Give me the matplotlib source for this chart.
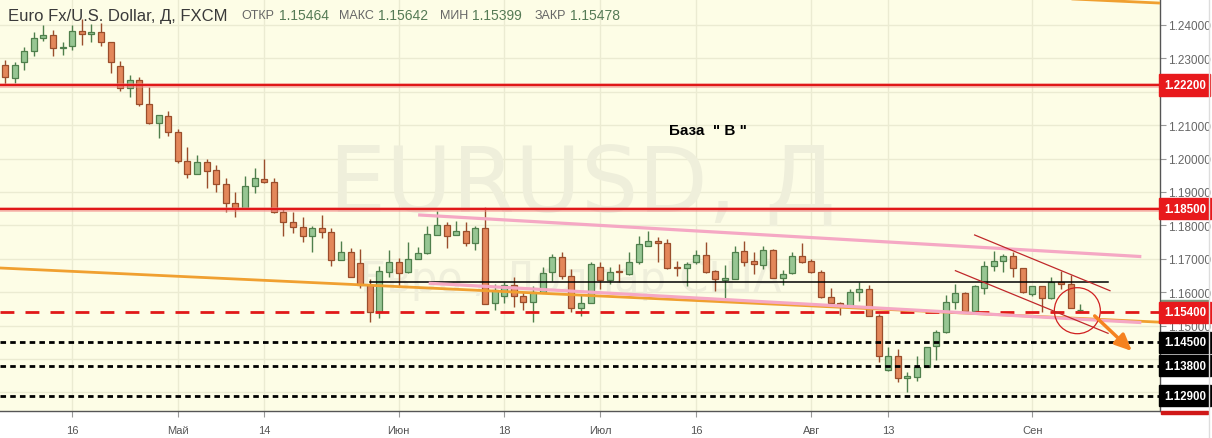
import numpy as np
import pandas as pd
import matplotlib
matplotlib.use("Agg")
import matplotlib.pyplot as plt
from matplotlib.patches import Ellipse, Rectangle
from matplotlib.lines import Line2D

# daily EURUSD candles, 5 Apr .. 10 Sep 2018
dates = pd.bdate_range("2018-04-05", "2018-09-10")
opens = [1.2281, 1.2240, 1.2288, 1.2323, 1.2360, 1.2370, 1.2330, 1.2336, 1.2383, 1.2372,
         1.2378, 1.2348, 1.2276, 1.2210, 1.2234, 1.2163, 1.2106, 1.2127, 1.2079, 1.1994,
         1.1953, 1.1989, 1.1965, 1.1923, 1.1866, 1.1851, 1.1917, 1.1938, 1.1929, 1.1839,
         1.1811, 1.1794, 1.1767, 1.1791, 1.1779, 1.1696, 1.1719, 1.1686, 1.1622, 1.1540,
         1.1661, 1.1689, 1.1660, 1.1700, 1.1716, 1.1772, 1.1801, 1.1772, 1.1784, 1.1746,
         1.1791, 1.1568, 1.1588, 1.1622, 1.1588, 1.1570, 1.1601, 1.1661, 1.1704, 1.1648,
         1.1552, 1.1567, 1.1674, 1.1637, 1.1664, 1.1655, 1.1690, 1.1739, 1.1752, 1.1747,
         1.1675, 1.1671, 1.1690, 1.1711, 1.1662, 1.1637, 1.1640, 1.1724, 1.1692, 1.1682,
         1.1727, 1.1642, 1.1657, 1.1708, 1.1692, 1.1660, 1.1585, 1.1567, 1.1560, 1.1600,
         1.1610, 1.1528, 1.1368, 1.1408, 1.1342, 1.1345, 1.1377, 1.1438, 1.1480, 1.1570,
         1.1598, 1.1543, 1.1614, 1.1677, 1.1694, 1.1707, 1.1671, 1.1595, 1.1618, 1.1582,
         1.1630, 1.1625, 1.15464]
highs = [1.2296, 1.2290, 1.2333, 1.2380, 1.2400, 1.2385, 1.2350, 1.2400, 1.2418, 1.2403,
         1.2406, 1.2349, 1.2291, 1.2250, 1.2243, 1.2213, 1.2130, 1.2143, 1.2089, 1.2036,
         1.2011, 1.1999, 1.1982, 1.1941, 1.1901, 1.1947, 1.1971, 1.1999, 1.1941, 1.1849,
         1.1839, 1.1824, 1.1799, 1.1831, 1.1791, 1.1754, 1.1731, 1.1729, 1.1639, 1.1678,
         1.1727, 1.1701, 1.1749, 1.1734, 1.1799, 1.1842, 1.1811, 1.1814, 1.1811, 1.1799,
         1.1854, 1.1625, 1.1630, 1.1645, 1.1600, 1.1618, 1.1675, 1.1714, 1.1721, 1.1670,
         1.1595, 1.1691, 1.1689, 1.1674, 1.1684, 1.1721, 1.1769, 1.1784, 1.1764, 1.1759,
         1.1694, 1.1689, 1.1727, 1.1749, 1.1667, 1.1681, 1.1739, 1.1754, 1.1719, 1.1739,
         1.1729, 1.1667, 1.1719, 1.1747, 1.1700, 1.1667, 1.1612, 1.1570, 1.1610, 1.1630,
         1.1622, 1.1535, 1.1435, 1.1430, 1.1360, 1.1408, 1.1435, 1.1488, 1.1592, 1.1625,
         1.1600, 1.1622, 1.1694, 1.1724, 1.1714, 1.1719, 1.1671, 1.1618, 1.1620, 1.1645,
         1.1664, 1.1650, 1.15642]
lows = [1.2223, 1.2225, 1.2266, 1.2308, 1.2353, 1.2306, 1.2311, 1.2326, 1.2340, 1.2348,
        1.2336, 1.2255, 1.2203, 1.2185, 1.2157, 1.2103, 1.2061, 1.2069, 1.1986, 1.1941,
        1.1953, 1.1913, 1.1901, 1.1841, 1.1824, 1.1849, 1.1896, 1.1927, 1.1836, 1.1769,
        1.1777, 1.1751, 1.1719, 1.1761, 1.1679, 1.1696, 1.1646, 1.1612, 1.1511, 1.1522,
        1.1645, 1.1620, 1.1657, 1.1700, 1.1714, 1.1772, 1.1731, 1.1772, 1.1739, 1.1727,
        1.1565, 1.1548, 1.1568, 1.1555, 1.1548, 1.1510, 1.1601, 1.1634, 1.1640, 1.1540,
        1.1530, 1.1567, 1.1610, 1.1624, 1.1630, 1.1651, 1.1684, 1.1739, 1.1691, 1.1669,
        1.1648, 1.1618, 1.1684, 1.1657, 1.1605, 1.1582, 1.1640, 1.1679, 1.1654, 1.1669,
        1.1642, 1.1622, 1.1655, 1.1687, 1.1657, 1.1582, 1.1558, 1.1532, 1.1552, 1.1575,
        1.1528, 1.1390, 1.1365, 1.1332, 1.1302, 1.1335, 1.1375, 1.1398, 1.1478, 1.1550,
        1.1542, 1.1543, 1.1595, 1.1664, 1.1659, 1.1644, 1.1598, 1.1590, 1.1540, 1.1580,
        1.1610, 1.1552, 1.15399]
closes = [1.2243, 1.2280, 1.2323, 1.2360, 1.2370, 1.2330, 1.2333, 1.2383, 1.2372, 1.2378,
          1.2348, 1.2288, 1.2210, 1.2234, 1.2163, 1.2106, 1.2130, 1.2079, 1.1994, 1.1953,
          1.1989, 1.1962, 1.1923, 1.1866, 1.1851, 1.1917, 1.1941, 1.1929, 1.1841, 1.1809,
          1.1794, 1.1769, 1.1791, 1.1779, 1.1696, 1.1719, 1.1646, 1.1622, 1.1540, 1.1663,
          1.1689, 1.1657, 1.1700, 1.1717, 1.1774, 1.1801, 1.1767, 1.1784, 1.1746, 1.1791,
          1.1565, 1.1607, 1.1622, 1.1588, 1.1570, 1.1602, 1.1657, 1.1704, 1.1648, 1.1552,
          1.1568, 1.1684, 1.1637, 1.1659, 1.1660, 1.1690, 1.1744, 1.1752, 1.1746, 1.1672,
          1.1671, 1.1684, 1.1711, 1.1660, 1.1640, 1.1643, 1.1720, 1.1691, 1.1684, 1.1727,
          1.1642, 1.1654, 1.1708, 1.1690, 1.1660, 1.1585, 1.1567, 1.1558, 1.1600, 1.1610,
          1.1528, 1.1410, 1.1408, 1.1342, 1.1348, 1.1377, 1.1435, 1.1480, 1.1570, 1.1598,
          1.1543, 1.1620, 1.1677, 1.1694, 1.1707, 1.1671, 1.1600, 1.1618, 1.1582, 1.1630,
          1.1625, 1.1552, 1.15478]

# horizontal levels
red_levels = [1.2220, 1.1850]
dash_level = 1.1540
dot_levels = [1.1450, 1.1380, 1.1290]
base_level = 1.1630

# trend lines: (x0, y0, x1, y1) in candle index / price
orange_low = (-1, 1.16731, 121, 1.15093)
orange_top = (95, 1.24996, 121, 1.24647)
pink_top = (43.2, 1.18311, 118.2, 1.17069)
pink_low = (44.3, 1.16266, 118.2, 1.15093)
chan_top = (101.0, 1.17713, 115.1, 1.16045)
chan_low = (99.0, 1.16644, 114.9, 1.14769)

tick_dates = ["2018-04-16", "2018-05-01", "2018-05-14", "2018-06-01", "2018-06-18",
              "2018-07-02", "2018-07-16", "2018-08-01", "2018-08-13", "2018-09-03"]
tick_labels = ["16", "Май", "14", "Июн", "18", "Июл", "16", "Авг", "13", "Сен"]
price_ticks = [1.15, 1.16, 1.17, 1.18, 1.19, 1.20, 1.21, 1.23, 1.24]

BG = "#fdfde6"
GRID = "#ebebd2"
UP_FILL, UP_EDGE = "#97c693", "#4f7f4c"
DN_FILL, DN_EDGE = "#e3875a", "#9a4e2c"

plt.rcParams["font.family"] = ["Liberation Sans", "DejaVu Sans"]

fig = plt.figure(figsize=(12.12, 4.39), dpi=100)
fig.patch.set_facecolor("white")
W, H = 1212.0, 439.0
ax = fig.add_axes([0, 27 / H, 1160 / W, 412 / H])
ax.set_facecolor(BG)

x = np.arange(len(dates))
o = np.array(opens); h = np.array(highs); l = np.array(lows); c = np.array(closes)
up = c >= o

ax.set_xlim(-0.52, 120.31)
ax.set_ylim(1.12443, 1.24778)

# grid
pos = [dates.get_loc(pd.Timestamp(d)) for d in tick_dates]
for p in pos:
    ax.axvline(p, color=GRID, lw=1, zorder=0)
for yv in np.arange(1.13, 1.2451, 0.01):
    ax.axhline(yv, color=GRID, lw=1, zorder=0)

# watermark
ax.text(60.1, 1.1843, "EURUSD, Д", fontsize=65, color="#efefdb", ha="center",
        va="baseline", zorder=1, family="DejaVu Sans")
ax.text(58.9, 1.1640, "Евро / Доллар США", fontsize=30, color="#efefdb", ha="center",
        va="center", zorder=1, family="DejaVu Sans")

# candles
ax.vlines(x[up], l[up], h[up], color=UP_EDGE, lw=1, zorder=2)
ax.vlines(x[~up], l[~up], h[~up], color=DN_EDGE, lw=1, zorder=2)
body = np.maximum(np.abs(c - o), 0.00008)
ax.bar(x[up], body[up], bottom=np.minimum(o, c)[up], width=0.64, color=UP_FILL,
       edgecolor=UP_EDGE, lw=0.9, zorder=3)
ax.bar(x[~up], body[~up], bottom=np.minimum(o, c)[~up], width=0.64, color=DN_FILL,
       edgecolor=DN_EDGE, lw=0.9, zorder=3)

# levels
for lv in red_levels:
    ax.axhline(lv, color="#f28c8c", lw=3.5, alpha=0.55, zorder=4)
    ax.axhline(lv, color="#e01818", lw=1.6, zorder=4)
ax.axhline(dash_level, color="#e01818", lw=2, dashes=(5, 4), zorder=4)
for lv in dot_levels:
    ax.axhline(lv, color="black", lw=2, dashes=(2, 1.5), zorder=4)
ax.plot([38, 114.9], [base_level, base_level], color="black", lw=1.1, zorder=4)


def seg(s, **kw):
    ax.plot([s[0], s[2]], [s[1], s[3]], **kw)


seg(orange_low, color="#f0a030", lw=2, zorder=4)
seg(orange_top, color="#f0a030", lw=2, zorder=4)
seg(pink_top, color="#f5a8c4", lw=2.3, zorder=4)
seg(pink_low, color="#f5a8c4", lw=2.3, zorder=4)
seg(chan_top, color="#c0282a", lw=0.9, zorder=4)
seg(chan_low, color="#c0282a", lw=0.9, zorder=4)

ax.add_patch(Ellipse((111.7, 1.15446), 46 / 9.6, 46 / 3340.0, fill=False,
                     edgecolor="#d02020", lw=0.9, zorder=5))
ax.annotate("", xy=(117.6, 1.1418), xytext=(113.3, 1.15347),
            arrowprops=dict(arrowstyle="-|>,head_length=1.0,head_width=0.45",
                            color="#f58220", lw=2.5), zorder=5)

ax.text(73.2, 1.2086, 'База  " В "', fontsize=11, fontweight="bold", ha="center",
        va="center", color="black", zorder=5)

# axes styling
for s in ["top", "left"]:
    ax.spines[s].set_visible(False)
for s in ["right", "bottom"]:
    ax.spines[s].set_color("#555555")
    ax.spines[s].set_linewidth(1)

ax.set_xticks(pos)
ax.set_xticklabels(tick_labels)
ax.tick_params(axis="x", length=4, color="#999999", labelsize=8, labelcolor="#555555", pad=6)
ax.yaxis.tick_right()
ax.set_yticks(price_ticks)
ax.set_yticklabels(["%.5f" % v for v in price_ticks])
ax.tick_params(axis="y", length=4, color="#999999", labelsize=8.5, labelcolor="#666666", pad=2)

# price boxes on the right
box_levels = red_levels + [dash_level] + dot_levels
box_colors = ["#e8191c"] * 3 + ["black"] * 3
for lv, bc in zip(box_levels, box_colors):
    ax.annotate("%.5f" % lv, xy=(1.0, lv), xycoords=("axes fraction", "data"),
                xytext=(2.8, 0), textcoords="offset points", ha="left", va="center",
                fontsize=8.3, fontweight="bold", color="white", annotation_clip=False,
                bbox=dict(boxstyle="square,pad=0.4", fc=bc, ec=bc), zorder=6)
fig.add_artist(Rectangle((1161 / W, (439 - 304) / H), 47 / W, 3 / H, color="#809a80",
                         transform=fig.transFigure, zorder=0))
fig.add_artist(Rectangle((1161 / W, (439 - 415) / H), 47 / W, 3 / H, color="#d01818",
                         transform=fig.transFigure))
fig.add_artist(Line2D([1209 / W, 1209 / W], [0, 1], color="#dddddd", lw=1,
                      transform=fig.transFigure))

# header
fig.text(8 / W, 1 - 16 / H, "Euro Fx/U.S. Dollar, Д, FXCM", fontsize=12, color="#3a3a3a",
         va="center")
hdr = [("ОТКР", "1.15464", 241, 279), ("МАКС", "1.15642", 339, 378),
       ("МИН", "1.15399", 440, 472), ("ЗАКР", "1.15478", 535, 570)]
for lab, val, lx, vx in hdr:
    fig.text(lx / W, 1 - 16 / H, lab, fontsize=9, color="#666666", va="center")
    fig.text(vx / W, 1 - 16 / H, val, fontsize=10, color="#557a55", va="center")

fig.savefig("out.png", dpi=100, facecolor=fig.get_facecolor())
